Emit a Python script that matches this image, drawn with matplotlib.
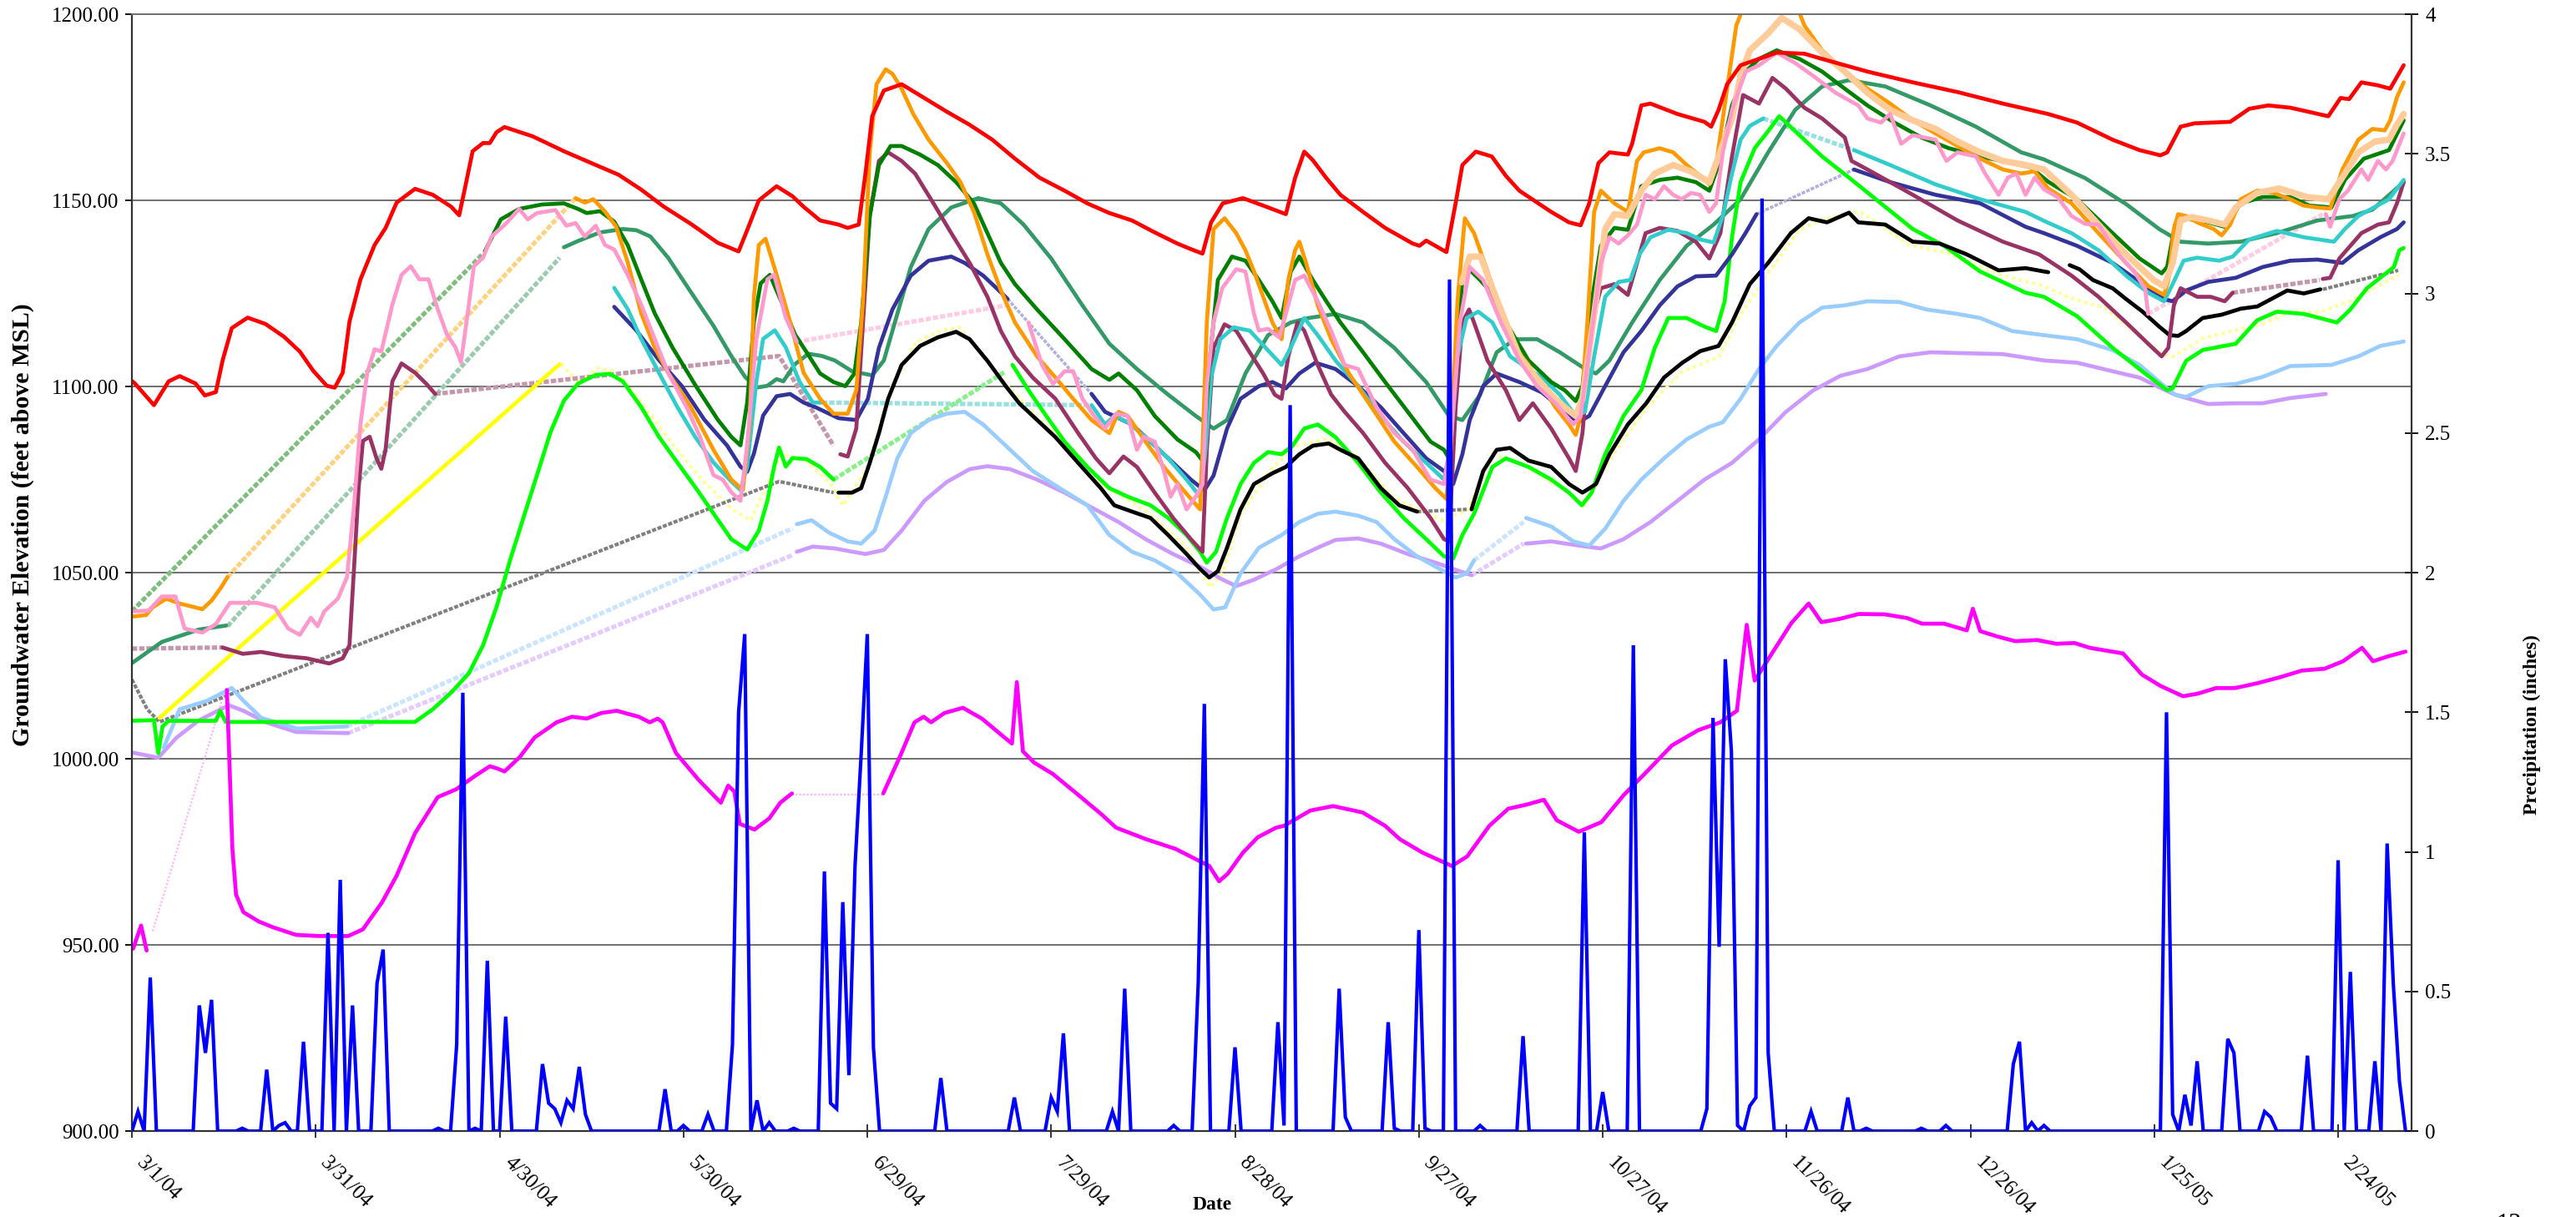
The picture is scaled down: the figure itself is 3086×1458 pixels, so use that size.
import numpy as np
import matplotlib
matplotlib.use("Agg")
import matplotlib.pyplot as plt
from matplotlib.transforms import ScaledTranslation

plt.rcParams["font.family"] = ["Liberation Serif", "DejaVu Serif"]

# x = days since 3/1/04, y = groundwater elevation (ft above MSL); None = gap
TICK_DAYS = [0, 30, 60, 90, 120, 150, 180, 210, 240, 270, 300, 330, 360]
TICK_LABELS = ["3/1/04", "3/31/04", "4/30/04", "5/30/04", "6/29/04", "7/29/04",
               "8/28/04", "9/27/04", "10/27/04", "11/26/04", "12/26/04",
               "1/25/05", "2/24/05"]
ELEV_TICKS = [900, 950, 1000, 1050, 1100, 1150, 1200]
RAIN_TICKS = [0, 0.5, 1, 1.5, 2, 2.5, 3, 3.5, 4]
RAIN_TICK_LABELS = ["0", "0.5", "1", "1.5", "2", "2.5", "3", "3.5", "4"]

red = [(0, 1101.5), (0.5, 1100.8), (3.6, 1095), (6, 1101.4), (7.8, 1102.8), (10.4, 1100.8), (11.9, 1097.6),
       (13.7, 1098.5), (14.8, 1107), (16.3, 1115.7), (18.9, 1118.5), (21.8, 1116.8), (24.8, 1113.4),
       (27.4, 1109.4), (29.6, 1104.2), (31.8, 1100.2), (33.1, 1099.7), (34.4, 1103.7), (35.5, 1117.4),
       (37.3, 1128.8), (39.6, 1138), (41.4, 1142.6), (43.2, 1149.4), (46.2, 1153.1), (49.1, 1151.5),
       (52.1, 1148.3), (53.4, 1146), (54.3, 1152.9), (55.6, 1163.2), (57.3, 1165.4), (58.4, 1165.4),
       (59.5, 1168.3), (60.8, 1169.7), (65.4, 1167.2), (70.5, 1163.2), (75, 1160), (79.4, 1156.9),
       (83.1, 1152.9), (86.8, 1148.3), (91.2, 1143.7), (95.6, 1138.6), (99, 1136.3), (100.4, 1142),
       (102.3, 1150), (105.2, 1153.8), (107.8, 1151.1), (109.6, 1148.3), (112.3, 1144.6), (115.3, 1143.5),
       (116.8, 1142.6), (118.6, 1143.5), (119.7, 1157.2), (120.8, 1172.6), (122.7, 1179.5), (125.6, 1181.2),
       (130, 1176.8), (133, 1173.8), (136.7, 1170.3), (140.4, 1166.3), (144.1, 1161.2), (148.1, 1156.1),
       (152.2, 1152.6), (155.9, 1149.2), (159.5, 1146.6), (163.2, 1144.6), (166.9, 1141.4), (170.6, 1138.4),
       (172.8, 1136.9), (174.7, 1135.7), (176.1, 1144.1), (178, 1149.2), (181.3, 1150.6), (184.6, 1148.6),
       (188.3, 1146.3), (189.8, 1156), (191.3, 1163.1), (192.7, 1160.8), (194.9, 1156), (197.2, 1151.5),
       (200.9, 1146.9), (204.5, 1142.6), (209, 1138.4), (210.1, 1137.8), (211.2, 1139.2), (212.7, 1137.8),
       (214.5, 1136.1), (216, 1149.2), (217.1, 1159.5), (219.3, 1163.1), (221.9, 1161.8), (224.2, 1156.6),
       (226.4, 1152.6), (231.6, 1146.9), (234.5, 1144.1), (236.4, 1143.3), (237.8, 1149.2), (239.3, 1160),
       (241.1, 1162.9), (244.1, 1162.3), (244.8, 1165.2), (246.3, 1175.5), (247.8, 1176), (252.2, 1173.2),
       (256.6, 1171.1), (257.7, 1169.8), (258.9, 1174.3), (260.3, 1181.2), (262.5, 1186.3), (265.5, 1188),
       (268.4, 1189.7), (272.9, 1189.4), (275.8, 1188), (283.2, 1184.6), (290.6, 1181.7), (297.9, 1179.1),
       (305.3, 1176), (312.7, 1173.2), (317.4, 1170.9), (323.2, 1166.3), (327.6, 1163.5), (331, 1162.1),
       (332.1, 1162.9), (334.3, 1169.8), (336.6, 1170.7), (342.4, 1171.1), (345.5, 1174.6), (348.6, 1175.5),
       (352.2, 1174.9), (358.4, 1172.6), (360.4, 1177.5), (361.8, 1177.2), (363.8, 1181.7), (366.5, 1180.9),
       (368.5, 1180), (370.7, 1186.3)]

orange = [(0, 1038.2), (2.3, 1038.6), (3.4, 1040.7), (5.6, 1043), (7.8, 1041.7), (11.5, 1040.2), (13, 1042.5),
          (14.5, 1045.9), (15.6, 1048.8), None,
          (72.4, 1150.6), (73.9, 1149.4), (75.3, 1150.3), (77.2, 1147), (79, 1143), (80.9, 1133.4),
          (83.1, 1119.7), (85.3, 1110.5), (87.5, 1103.7), (91.2, 1094.5), (94.9, 1083), (97.8, 1075),
          (99.7, 1072.2), (100.8, 1090), (101.5, 1124), (102.3, 1138), (103.4, 1139.7), (105.2, 1130),
          (107.4, 1117.4), (109.6, 1103.7), (112.3, 1096.7), (114.5, 1092.7), (116.8, 1092.7), (118.2, 1099),
          (119.3, 1123), (120.4, 1162.9), (121.5, 1181.2), (123, 1185.2), (124.1, 1184), (125.6, 1180),
          (127.5, 1173.2), (130, 1166.3), (133, 1160), (135.2, 1154.9), (137.4, 1146.9), (139.6, 1135.5),
          (141.8, 1125.8), (144.1, 1117.2), (147.7, 1108.1), (150.7, 1102.4), (153.6, 1096.7), (156.6, 1091),
          (159.5, 1087.5), (161, 1093.2), (162.5, 1092.1), (165.4, 1085.2), (168.4, 1078.4), (171.3, 1072.7),
          (174.3, 1067), (174.7, 1083), (175.4, 1117.2), (176.5, 1142.3), (178.3, 1145.2), (180.2, 1141.2),
          (181.7, 1136.6), (183.1, 1130.9), (184.6, 1124.1), (186.1, 1117.2), (187.6, 1112.7), (188.7, 1128.6),
          (189.8, 1136.6), (190.5, 1138.9), (191.6, 1133.2), (193.5, 1121.8), (195.7, 1112.7), (198.6, 1103.5),
          (202.3, 1094.4), (206, 1085.2), (209.7, 1078.4), (212.7, 1072.7), (214.5, 1069.8), (215.2, 1083),
          (216.3, 1122.9), (217.5, 1145.2), (219, 1141.2), (221.2, 1131), (223.4, 1119.5), (225.7, 1110.4),
          (227.9, 1105.8), (230.1, 1100.1), (232.3, 1094.4), (234.5, 1089.8), (235.6, 1087), (236.4, 1092.1),
          (237.5, 1117.2), (238.6, 1146.9), (239.7, 1152.6), (241.9, 1149.2), (244.1, 1146.9), (245.6, 1160.6),
          (246.7, 1162.9), (249.3, 1164), (251.5, 1162.9), (253.7, 1159.5), (255.9, 1156.6), (257.4, 1154.3),
          (258.5, 1159.5), (260.3, 1180), (261.8, 1197), (263.5, 1204), (266, 1208), (269, 1207),
          (271.5, 1203), (272.9, 1197), (275.8, 1190.3), (279.5, 1184.6), (283.2, 1180), (286.9, 1176),
          (290.6, 1171.5), (294.3, 1168), (297.9, 1164.6), (301.6, 1161.2), (305.3, 1158.3), (308.3, 1157.2),
          (310.5, 1157.8), (312.7, 1153.2), (316.5, 1149.2), (320.9, 1141.2), (325.4, 1133.2), (329, 1127),
          (331.6, 1124.6), (332.3, 1128.6), (333.2, 1142.3), (333.9, 1146.3), (335.2, 1145.8), (337, 1144.1),
          (339.7, 1142.3), (341, 1140.6), (342.4, 1143.5), (344.1, 1150.3), (346.8, 1152.6), (349.5, 1152),
          (352.2, 1150.3), (354.4, 1148.6), (356.6, 1148.1), (358.7, 1147.8), (360.7, 1158.3), (363.3, 1166.3),
          (365.6, 1169.2), (367.6, 1168.8), (368.5, 1171.5), (369.6, 1177.7), (370.7, 1181.7)]

peach = [(217, 1128), (218.3, 1134.9), (220.1, 1134.9), (222, 1126.4), (224.2, 1117.2), (226.4, 1108.1),
         (228.6, 1103.5), (231.6, 1097.8), (233.8, 1094.4), (235.6, 1092.1), (236.7, 1096.7), (238.9, 1122.9),
         (240.4, 1142.3), (241.9, 1146.3), (244.1, 1145.8), (246.3, 1152.6), (248.5, 1157.2), (251.5, 1159.5),
         (254.4, 1157.8), (257.4, 1154.9), (258.9, 1161.8), (261.1, 1172), (262.5, 1183.5), (264, 1190.3),
         (267, 1194.9), (269.2, 1199), (272.1, 1196), (275.8, 1189.7), (279.5, 1184.6), (283.2, 1178.9),
         (286.9, 1174.3), (290.6, 1171.5), (294.3, 1169.2), (297.9, 1165.8), (301.6, 1162.9), (305.3, 1160.6),
         (309, 1159.5), (312, 1158.3), (316.5, 1151.5), (320.9, 1143.5), (325.4, 1135.5), (329.9, 1128.6),
         (331.6, 1126.9), (333, 1133.2), (334.3, 1144.6), (336.1, 1145.5), (338.8, 1144.6), (341.5, 1143.5),
         (343.3, 1148.1), (346.8, 1152), (350.4, 1153.2), (354.9, 1150.9), (358.4, 1150.3), (360.2, 1154.9),
         (363.3, 1162.9), (366, 1165.8), (368.3, 1166.3), (369.6, 1170.3), (370.7, 1173.2)]

dark_green = [(57.6, 1136.3), (60.2, 1144.9), (63.2, 1147.7), (66.9, 1148.9), (70.5, 1149.2), (72.8, 1147.7),
              (74.2, 1146.6), (76.4, 1147.1), (78.7, 1144.3), (80.9, 1138), (83.1, 1128.8), (85.3, 1119.7),
              (88.2, 1110.5), (92, 1100.2), (95.6, 1091.1), (97.8, 1086.5), (99.3, 1084.2), (100.4, 1095.7),
              (101.5, 1117.4), (102.6, 1127.7), (104.1, 1130), (105.9, 1123.1), (108.2, 1114), (110.1, 1109.2),
              (112.3, 1103.5), (114.5, 1101.2), (116.4, 1100.1), (117.9, 1103.5), (119, 1117.2), (120.4, 1145.8),
              (121.9, 1159.5), (123.8, 1164.6), (125.6, 1164.6), (128.6, 1162.3), (131.5, 1159.5), (134.5, 1154.9),
              (137.4, 1149.2), (139.6, 1141.2), (141.8, 1133.2), (144.1, 1127.5), (147.7, 1120.7), (152.2, 1112.7),
              (156.6, 1104.7), (159.5, 1101.8), (161, 1103.5), (164, 1099), (166.9, 1092.1), (170.6, 1085.8),
              (173.6, 1082.4), (174.7, 1080.1), (175.8, 1105.8), (177.2, 1128.6), (179.5, 1134.9), (181.7, 1133.8),
              (183.9, 1128.6), (186.1, 1122.9), (187.6, 1118.4), (189.1, 1130.9), (190.5, 1134.9), (192.7, 1128.6),
              (194.9, 1122.9), (197.2, 1117.2), (200.9, 1109.2), (204.5, 1101.2), (208.2, 1093.2), (211.9, 1085.2),
              (214.1, 1083), (214.9, 1080.7), (216, 1105.8), (217.1, 1128.6), (218.2, 1131.5), (220, 1128.6),
              (221.2, 1126.4), (224.2, 1117.2), (227.9, 1107), (231.6, 1101.2), (233.8, 1099), (235.6, 1096.1),
              (236.7, 1100.1), (238.2, 1122.9), (239.7, 1137.8), (241.9, 1142.6), (244.1, 1142.1), (246.3, 1153.8),
              (249.3, 1155.5), (252.2, 1156.1), (255.2, 1154.9), (257.4, 1152.6), (258.9, 1159.5), (261.1, 1175.5),
              (263.3, 1184.6), (265.5, 1188), (268.4, 1190.3), (272.1, 1188), (275.8, 1184.6), (279.5, 1180),
              (283.2, 1175.5), (287.6, 1170.9), (292, 1166.9), (296.5, 1164), (301.6, 1161.8), (306.8, 1160),
              (309.8, 1158.9), (312.7, 1155), (317.4, 1150.3), (323.2, 1141.2), (327.6, 1134.4), (331.2, 1130.4),
              (332.1, 1132.1), (333.4, 1143.5), (334.8, 1145.2), (338.8, 1144.1), (341.5, 1142.9), (344.1, 1149.2),
              (347.7, 1150.9), (352.2, 1150.9), (355.3, 1148.6), (358.9, 1148.1), (361.1, 1155.5), (364.2, 1161.2),
              (368.3, 1163.5), (370.7, 1171.5)]

sea_green = [(0, 1025.7), (4.9, 1031.4), (10.9, 1034.7), (15.4, 1035.8), None,
             (70.5, 1137.4), (72.8, 1139.1), (76.4, 1141.4), (80.1, 1142.3), (82.3, 1142), (84.6, 1140.3),
             (87.5, 1134.6), (91.2, 1125.4), (94.9, 1116.3), (97.8, 1108.2), (100.1, 1102.5), (101.9, 1099.7),
             (103.7, 1100.2), (105.2, 1102), (106.3, 1101.4), (108.2, 1106), (110.4, 1108.8), (112.6, 1108.2),
             (114.7, 1107), (117.5, 1104.1), (120.8, 1103), (122.7, 1107), (124.9, 1119.5), (127.1, 1132.1),
             (130, 1142.3), (133.7, 1148.1), (138.1, 1150.6), (141.8, 1149.2), (145.5, 1143.5), (150, 1134.4),
             (155.1, 1121.8), (159.5, 1111.5), (164, 1104.7), (169.1, 1097.8), (173.6, 1092.1), (176.5, 1088.7),
             (178.7, 1091), (181.7, 1103.5), (185.4, 1113.8), (189.1, 1117.2), (192, 1118.4), (196.4, 1119.5),
             (200.9, 1117.2), (206, 1110.4), (211.2, 1101.2), (214.9, 1092.1), (217.1, 1091), (220, 1097.8),
             (222.7, 1109.2), (225.7, 1112.7), (229.3, 1112.7), (233, 1109.2), (236.7, 1105.2), (238.9, 1103.5),
             (241.1, 1107), (244.8, 1117.2), (249.3, 1128.6), (253.7, 1137.8), (258.1, 1143.5), (262.5, 1150.3),
             (267, 1162.9), (271.4, 1174.3), (275.8, 1180.6), (280.2, 1182.3), (286.1, 1180.6), (293.5, 1175.5),
             (300.9, 1169.8), (308.3, 1162.9), (312, 1161), (318.7, 1156), (325.4, 1149), (330.8, 1142.3),
             (334.3, 1138.9), (338.8, 1138.4), (344.1, 1138.9), (350, 1141.2), (356.6, 1144.6), (362.4, 1145.8),
             (365.6, 1147.5), (370.7, 1154.9)]

pink = [(0, 1039.6), (2.7, 1039.8), (4.9, 1043.6), (7.1, 1043.6), (7.8, 1039.6), (8.6, 1035), (11.5, 1033.9),
        (13.7, 1036.2), (16, 1041.9), (20.4, 1041.9), (23.3, 1040.7), (25.5, 1035), (27.4, 1033.3), (29.2, 1037.9),
        (30.3, 1035.6), (31.4, 1039.6), (33.6, 1043), (35.1, 1048.8), (36.2, 1067.1), (37.3, 1089.9),
        (38.4, 1103.7), (39.6, 1110), (40.7, 1109.4), (42.5, 1122), (44, 1130), (45.5, 1132.3), (46.9, 1128.8),
        (48.4, 1128.8), (49.9, 1120.8), (51.4, 1114), (52.8, 1110.5), (53.7, 1106.5), (54.7, 1118.5),
        (55.8, 1132.3), (57.3, 1134.6), (58.7, 1140.3), (61, 1143.7), (63.2, 1147.7), (64.6, 1144.9),
        (66.1, 1146.6), (69.1, 1147.4), (70.9, 1143.2), (72.4, 1143.9), (73.9, 1140.3), (75.7, 1143.2),
        (77.2, 1138), (78.7, 1136.8), (80.9, 1130), (83.1, 1122), (85.3, 1112.8), (87.5, 1103.7), (90.5, 1094.5),
        (92.7, 1086.5), (94.9, 1076.2), (96.4, 1075), (97.8, 1071.6), (99.3, 1069.3), (100.4, 1084.2),
        (101.9, 1112.8), (103.7, 1128.8), (104.8, 1130), (106.7, 1118.5), (108.5, 1112), None,
        (146.3, 1117.2), (148.5, 1105.8), (150.3, 1100.7), (152.2, 1104.1), (153.6, 1104.1), (155.1, 1096.7),
        (157, 1092.1), (158.8, 1088.7), (160.6, 1092.7), (162.5, 1092.1), (164, 1083), (165.1, 1086.5),
        (166.9, 1085.2), (168.4, 1077.3), (169.5, 1070.4), (170.6, 1073.8), (172.1, 1067), (173.6, 1070.4),
        (174.7, 1073.8), (175.4, 1100.1), (176.5, 1117.2), (177.9, 1126.4), (180.2, 1131.5), (181.7, 1130.9),
        (183.1, 1119.5), (183.9, 1115), (185.4, 1115.5), (187.2, 1113.2), (188.3, 1119.5), (189.8, 1128.6),
        (191.3, 1129.8), (193.5, 1122.9), (195.7, 1114.9), (197.9, 1105.8), (200.1, 1104.7), (203.1, 1094.4),
        (206, 1087.5), (209, 1083), (211.9, 1075), (214.1, 1073.8), (215.2, 1085.2), (216.7, 1117.2),
        (218.3, 1132.1), (220.5, 1128.6), (223.4, 1117.2), (226.4, 1107), (229.3, 1100.1), (232.3, 1095.5),
        (235.2, 1089.8), (236.4, 1092.1), (237.5, 1105.8), (239.7, 1133.2), (241.1, 1140.1), (242.6, 1138.4),
        (244.1, 1140.6), (245.6, 1143.5), (247, 1151.5), (248.5, 1150.3), (250, 1153.8), (251.5, 1151.5),
        (252.9, 1150.3), (254.4, 1152), (255.9, 1151.5), (257.4, 1146.9), (258.5, 1149.2), (259.6, 1162.9),
        (261.1, 1174.3), (263.3, 1184.6), (265.5, 1186.3), (268.4, 1189.7), (271.4, 1186.9), (274.3, 1183.5),
        (278, 1178.9), (281.7, 1175.5), (283.2, 1172), (285.4, 1170.9), (286.9, 1173.2), (288.7, 1165.2),
        (290.6, 1167.5), (294.3, 1166.3), (296.1, 1160.6), (297.9, 1162.9), (300.9, 1161.8), (302.4, 1157.2),
        (304.6, 1151.5), (306.1, 1156.1), (307.5, 1157.2), (309, 1151.5), (310.5, 1156.1), (312, 1153),
        (314.2, 1150.9), (316.5, 1145.8), (318.7, 1143.7), (320.9, 1143.5), (322.7, 1138.9), (324.5, 1134.9),
        (326.7, 1130.9), (328.5, 1126.4), (329, 1119.5), None,
        (358, 1146.3), (358.7, 1142.9), (360.2, 1150.3), (361.6, 1152.6), (363.8, 1158.3), (364.9, 1155.5),
        (366.5, 1160.6), (367.8, 1158.3), (368.9, 1160.6), (370.7, 1168)]

turquoise = [(78.7, 1126.5), (80.9, 1120.8), (83.1, 1112.8), (86, 1103.7), (89, 1094.5), (91.9, 1086.5),
             (94.9, 1079.6), (97.8, 1074.5), (99.3, 1072.2), (100.4, 1078.5), (101.9, 1101.4), (103, 1112.8),
             (104.9, 1115.1), (106.7, 1110.5), (108.9, 1101.4), (111.1, 1095.7), (112.6, 1095.7), None,
             (156.6, 1095), (158.8, 1089.8), (160.3, 1092.1), (162.5, 1090.4), (165.4, 1086.4), (169.1, 1080.7),
             (172.1, 1075), (174.3, 1070.4), (175.2, 1083), (176.1, 1102.4), (177.6, 1112.7), (179.8, 1115.9),
             (182.4, 1115), (185, 1110.4), (187.6, 1105.8), (189.1, 1110.4), (191.3, 1118.4), (193.5, 1113.8),
             (196.4, 1107), (200.1, 1100.1), (203.8, 1092.1), (207.5, 1085.2), (211.2, 1079.5), (214.1, 1075),
             (215.2, 1084.1), (216.3, 1108.1), (217.8, 1118.4), (219.7, 1120.1), (222, 1117.2), (224.9, 1108.1),
             (227.9, 1104.7), (230.1, 1102.4), (233, 1097.8), (235.6, 1092.1), (237.1, 1093.2), (238.6, 1108.1),
             (240.4, 1124.1), (242.6, 1128.1), (244.5, 1128.6), (246, 1135.5), (247.8, 1140.1), (250.7, 1142.1),
             (253.7, 1141.2), (255.9, 1139.5), (258.1, 1138.7), (259.6, 1145.8), (261.1, 1157.2), (262.5, 1166.3),
             (264, 1170), (266.2, 1172), None,
             (281, 1163.5), (286.9, 1159.5), (294.3, 1154.3), (301.6, 1150.3), (309, 1146.9), (312, 1144.5),
             (316.5, 1141.2), (320.9, 1136.6), (325.4, 1129.8), (329, 1125.2), (331.6, 1122.9), (333, 1127.5),
             (334.8, 1133.8), (337, 1134.6), (340.6, 1133.8), (342.8, 1134.9), (345.5, 1139.5), (350, 1141.8),
             (354.4, 1140.1), (359.3, 1138.9), (361.1, 1142.3), (363.3, 1145.8), (368.3, 1150.3), (370.7, 1155.5)]

maroon = [(14.8, 1029.9), (18.1, 1028.2), (21.1, 1028.7), (24.8, 1027.6), (28.5, 1027), (32.2, 1025.6),
          (34.4, 1027), (35.5, 1030.5), (36.2, 1049.9), (37, 1072.8), (37.7, 1085.4), (38.8, 1086.5),
          (39.9, 1080.8), (40.7, 1077.9), (41.4, 1083.1), (42.5, 1101.4), (44, 1106.2), (46.2, 1103.7),
          (48, 1100.8), (49.5, 1098), None,
          (115.6, 1081.8), (116.8, 1081.2), (118.2, 1088.7), (119.3, 1117.2), (120.4, 1145.8), (121.9, 1160.6),
          (123.4, 1162.9), (125.6, 1160.6), (127.8, 1157.2), (130.8, 1149.2), (133.7, 1141.2), (136.7, 1133.2),
          (139.6, 1124.1), (141.8, 1114.9), (144.1, 1108.1), (147, 1102.4), (150.7, 1096.7), (154.4, 1087.5),
          (157.3, 1080.7), (159.5, 1076.7), (161.8, 1081.2), (164, 1078.4), (166.9, 1071.5), (169.9, 1064.7),
          (172.8, 1059), (174.7, 1055.6), (175.4, 1083), (176.5, 1110.4), (178.3, 1116.7), (180.2, 1115),
          (182.4, 1109.2), (184.6, 1103.5), (186.5, 1097.8), (187.6, 1096.7), (188.7, 1108.1), (190.2, 1117.2),
          (191.3, 1115), (193.5, 1105.8), (195.7, 1097.8), (197.9, 1093.2), (200.9, 1087.5), (204.5, 1079.5),
          (208.2, 1072.7), (211.9, 1064.7), (214.1, 1059), (214.9, 1058.4), (216, 1094.4), (217.1, 1117.2),
          (218.2, 1120.7), (219, 1117.2), (221.2, 1107), (224.2, 1099), (226.4, 1091), (228.6, 1095.5),
          (231.6, 1088.7), (234.5, 1080.7), (235.6, 1077.3), (236.7, 1087.5), (238.2, 1117.2), (239.7, 1126.4),
          (241.9, 1127.5), (244.1, 1124.6), (245.6, 1133.2), (247, 1141.2), (249.3, 1142.6), (252.2, 1141.8),
          (255.2, 1138.9), (257.4, 1134.4), (259.2, 1141.2), (261.1, 1161.8), (262.9, 1178.3), (265.5, 1176),
          (267.7, 1182.9), (269.9, 1180), (272.9, 1174.9), (275.8, 1172), (279.5, 1166.9), (280.6, 1160.6),
          (283.2, 1158.3), (290.6, 1151.5), (297.9, 1144.6), (305.3, 1138.9), (311.2, 1135.5), (316.5, 1129.8),
          (320.9, 1124.1), (325.4, 1117.2), (329, 1111.5), (331.2, 1108.1), (332.3, 1110.4), (333.2, 1121.8),
          (334.3, 1126.4), (337, 1124.1), (339.2, 1124.1), (341.5, 1122.9), (342.8, 1125.2), None,
          (357.5, 1128.9), (358.7, 1129.2), (360.2, 1134.4), (363.8, 1141.2), (366.5, 1143.5), (368.3, 1144.1),
          (369.6, 1149.2), (370.7, 1154.9)]

navy = [(78.7, 1121.4), (82.3, 1115.1), (86, 1107.1), (89.7, 1100.2), (93.4, 1091.1), (97.1, 1084.2),
        (99.3, 1078.5), (100.4, 1077.1), (101.5, 1082), (103, 1092.2), (105.2, 1097.4), (107.4, 1098),
        (109.6, 1095.7), (111.6, 1094.4), (115.3, 1091.5), (118.2, 1091), (120.1, 1096.7), (121.9, 1110.4),
        (124.1, 1120.7), (127.1, 1129.8), (130, 1133.8), (133.7, 1134.9), (135.9, 1133.2), (138.9, 1129.8),
        (141.1, 1126.4), (142.9, 1123.5), None,
        (156.6, 1098), (158.8, 1093.2), (161, 1091.5), (163.2, 1089.8), (166.2, 1085.2), (169.9, 1079.5),
        (172.8, 1075), (175, 1072.1), (176.5, 1076.1), (178.7, 1088.7), (180.9, 1096.7), (183.9, 1100.1),
        (186.1, 1101.2), (188.3, 1099.5), (190.5, 1103.5), (193.1, 1106.4), (196.4, 1104.7), (200.1, 1100.1),
        (203.8, 1094.4), (207.5, 1087.5), (211.2, 1080.7), (214.1, 1077.3), (215.6, 1073.8), (217.1, 1081.8),
        (218.3, 1091), (220.5, 1100.1), (222.7, 1103.5), (226.4, 1101.2), (230.1, 1098.4), (233, 1094.4),
        (236, 1090.4), (237.8, 1092.1), (240.4, 1100.1), (243.4, 1109.2), (246.3, 1114.9), (249.3, 1121.8),
        (252.2, 1126.9), (255.2, 1129.6), (258.5, 1129.8), (261.1, 1135.5), (263.3, 1141.2), (265.1, 1146.3), None,
        (281, 1158.3), (286.9, 1154.9), (294.3, 1151.5), (301.6, 1149.2), (309, 1142.9), (312, 1141.2),
        (317.4, 1137.8), (323.2, 1133.2), (327.6, 1128.1), (331.6, 1123.5), (333, 1122.9), (335.2, 1125.8),
        (338.8, 1128.1), (343.3, 1129.2), (347.7, 1132.1), (352.2, 1133.8), (356.6, 1134.1), (360.7, 1133.2),
        (363.3, 1136.6), (366.9, 1140.1), (369.6, 1142.3), (370.7, 1144.1)]

black = [(115.3, 1071.5), (117.5, 1071.5), (119, 1072.7), (120.4, 1079.5), (121.9, 1087.5), (123.4, 1096.7),
         (125.6, 1105.8), (128.6, 1110.9), (131.5, 1113.2), (134.5, 1114.7), (136.7, 1112.7), (139.6, 1106.9),
         (142.6, 1100.1), (144.8, 1095.5), (147, 1092.1), (150.7, 1086.4), (154.4, 1079.5), (158.1, 1072.7),
         (160.3, 1068.1), (163.2, 1066.4), (166.2, 1064.7), (169.1, 1060.1), (172.1, 1055), (174.3, 1051),
         (175.8, 1048.7), (177.2, 1050.4), (178.7, 1056.7), (180.9, 1067), (183.1, 1073.8), (186.1, 1076.7),
         (188.3, 1078.4), (190.5, 1081.8), (192.7, 1084.1), (195.3, 1084.7), (197.2, 1083), (200.1, 1080.7),
         (203.8, 1072.7), (206.8, 1068.1), (209.7, 1066.4), None,
         (218.6, 1067), (220.5, 1077.3), (222.7, 1083), (224.9, 1083.5), (227.9, 1080.1), (231.6, 1078.4),
         (234.5, 1073.8), (236.7, 1071.5), (238.9, 1073.8), (241.1, 1081.8), (244.1, 1089.8), (247.1, 1095.5),
         (250, 1102.4), (253, 1106.4), (255.9, 1109.5), (258.9, 1110.9), (261.1, 1117.2), (264, 1127.5),
         (267, 1133.2), (270.7, 1141.2), (273.6, 1145.2), (276.6, 1144.1), (280.2, 1146.7), (281.7, 1144.1),
         (286.1, 1143.5), (290.6, 1138.9), (295, 1138.4), (299.4, 1135.5), (304.6, 1131.2), (309, 1131.8),
         (312.7, 1130.7), None,
         (316.2, 1132.6), (317.8, 1131.5), (320, 1128.6), (323.2, 1126.4), (325.4, 1123.5), (328.1, 1120.1),
         (330.8, 1116.1), (332.5, 1113.8), (333.9, 1113.6), (335.2, 1114.9), (337.9, 1118.4), (341, 1119.3),
         (344.1, 1120.9), (346.8, 1121.5), (349.1, 1123.5), (351.7, 1125.8), (354.4, 1125), (357.1, 1126.1)]

green = [(0, 1010.2), (3.6, 1010.4), (4.3, 1001.5), (5, 1008.7), (6, 1010.2), (13.7, 1010.2), (14.4, 1012.9),
         (15.3, 1009.9), (46.2, 1009.9), (49.1, 1013.3), (52.1, 1017.8), (55, 1023), (57.3, 1030.5),
         (59.5, 1040.8), (61.7, 1053.3), (63.9, 1064.8), (66.1, 1076.2), (68.3, 1087.7), (70.5, 1096.2),
         (72.8, 1100.8), (75.7, 1103.1), (78, 1103.4), (80.1, 1101.4), (83.1, 1094.5), (86, 1086.5), (89, 1079.6),
         (92, 1072.8), (94.9, 1065.9), (97.8, 1059), (100.4, 1056.2), (102.3, 1061.3), (103.7, 1069.3),
         (104.8, 1078.5), (105.6, 1083.6), (106.7, 1078.5), (107.8, 1080.8), (110.1, 1080.5), (112.3, 1078.4),
         (114.5, 1075), None,
         (143.7, 1105.8), (146.3, 1099), (149.2, 1092.1), (152.2, 1085.2), (155.9, 1078.4), (159.5, 1072.7),
         (162.5, 1070.4), (166.2, 1068.1), (169.1, 1064.7), (172.1, 1060.1), (174.3, 1055.6), (175.4, 1052.7),
         (176.9, 1055.6), (178.7, 1064.7), (180.9, 1073.8), (183.1, 1079.5), (185.4, 1082.4), (187.6, 1081.8),
         (189.4, 1084.1), (191.3, 1088.7), (193.5, 1089.8), (196.4, 1086.4), (200.1, 1079.5), (203.8, 1071.5),
         (207.5, 1064.7), (211.2, 1059), (214.1, 1054.4), (215.6, 1053.8), (217.1, 1060.1), (219, 1065.8),
         (222, 1078.4), (224.2, 1080.7), (227.9, 1078.4), (231.6, 1075), (234.5, 1071.5), (236.6, 1068.1),
         (238.2, 1071.5), (240.4, 1081.8), (243.4, 1092.1), (246.3, 1099), (248.5, 1110.4), (250.7, 1118.4),
         (253.7, 1118.4), (256.6, 1116.1), (258.5, 1114.9), (259.9, 1122.9), (261.1, 1140.1), (262.5, 1154.9),
         (264.8, 1164), (267, 1168.6), (268.8, 1172.6), (271.4, 1168.6), (275.8, 1161.8), (280.2, 1156.1),
         (285.4, 1149.2), (290.6, 1142.3), (295.7, 1137.8), (301.6, 1130.9), (309, 1125.2), (312, 1124.1),
         (317.4, 1118.9), (323.2, 1110.4), (328.5, 1103.5), (332.1, 1099), (333, 1099.5), (335.2, 1106.9),
         (337.9, 1109.8), (343.3, 1111.5), (346.8, 1117.8), (350, 1120.1), (354.4, 1119.5), (359.8, 1117.2),
         (362, 1120.7), (364.7, 1126.4), (367.8, 1130.4), (369.1, 1132.1), (370, 1136.6), (370.7, 1137.2)]

light_blue = [(5.2, 1003), (7.8, 1013.3), (12.3, 1015.6), (16.3, 1019), (18.2, 1015.6), (21.1, 1011),
              (27, 1008.1), (35.1, 1008.7), None,
              (108.5, 1063), (110.9, 1064.1), (113.8, 1060.7), (116.8, 1058.4), (119, 1057.8), (121.2, 1061.3),
              (123, 1070.4), (124.9, 1080.7), (127.1, 1087.5), (130, 1091), (133, 1092.7), (135.9, 1093.2),
              (138.9, 1089.8), (142.6, 1084.1), (147, 1077.3), (151.4, 1072.7), (155.9, 1068.1), (159.5, 1060.1),
              (163.2, 1055.6), (166.9, 1053.3), (170.6, 1049.8), (174.3, 1044.1), (176.5, 1040.1), (178.4, 1040.7),
              (180.9, 1049.8), (183.9, 1056.7), (187.6, 1060.1), (190.5, 1063.6), (193.5, 1065.8), (196.4, 1066.4),
              (200.1, 1065.3), (203.1, 1063.6), (206, 1059), (209.7, 1054.4), (213.4, 1051), (216, 1048.7),
              (217.8, 1049.8), (219, 1053.3), None,
              (227.5, 1064.7), (231.6, 1062.4), (235.2, 1058.4), (237.8, 1057.3), (240.4, 1061.8), (243.4, 1069.3),
              (246.3, 1075), (250, 1080.7), (253.7, 1085.8), (257.4, 1089.2), (259.6, 1090.4), (262.5, 1096.7),
              (265.5, 1104.7), (268.4, 1110.9), (272.1, 1117.2), (275.8, 1121.2), (279.5, 1121.8), (283.2, 1122.9),
              (288.4, 1122.7), (292.8, 1120.7), (297.9, 1119.5), (301.6, 1118.4), (306.8, 1114.9), (312, 1113.8),
              (317.4, 1112.7), (323.2, 1109.8), (327.6, 1105.8), (331.2, 1100.7), (333.4, 1097.8), (335.2, 1097.2),
              (338.8, 1100.1), (343.3, 1100.7), (347.7, 1102.6), (352.2, 1105.5), (358.9, 1105.8), (363.3, 1108.1),
              (366.9, 1110.9), (370.7, 1112.1)]

lavender = [(0, 1001.7), (4.3, 1000.3), (7.3, 1005.7), (10.9, 1010.3), (15.8, 1014.4), (18.2, 1012.9),
            (21.9, 1009.8), (26.8, 1007.2), (35.3, 1006.9), None,
            (108.5, 1055.6), (111.1, 1057), (114.7, 1056.5), (116, 1056.1), (119.7, 1055), (122.7, 1056.1),
            (125.6, 1061.3), (129.3, 1069.3), (133, 1074.4), (136.7, 1077.8), (139.6, 1078.6), (143.3, 1077.8),
            (147.7, 1075), (152.2, 1071.5), (156.6, 1067.5), (161, 1063.6), (165.4, 1059), (169.9, 1055),
            (174.3, 1051.6), (178, 1048.1), (180.2, 1046.4), (183.1, 1048.1), (186.8, 1051), (190.5, 1054.4),
            (193.5, 1056.7), (196.4, 1058.8), (200.1, 1059.2), (203.8, 1057.8), (208.2, 1055), (212.7, 1052.7),
            (215.6, 1051), (218.6, 1049.3), None,
            (227.5, 1057.8), (231.6, 1058.4), (236, 1057.3), (239.7, 1056.5), (243.4, 1059), (247.8, 1063.6),
            (252.2, 1069.3), (256.6, 1075), (261.1, 1079.5), (265.5, 1085.8), (269.9, 1093.2), (274.3, 1098.9),
            (278.8, 1102.9), (283.2, 1104.7), (288.4, 1108.1), (293.5, 1109.2), (297.9, 1109), (305.3, 1108.7),
            (312, 1107), (317.4, 1106.4), (323.2, 1104.1), (327.6, 1102.4), (331.2, 1099.5), (333.4, 1097.8),
            (335.7, 1096.7), (338.8, 1095.3), (343.3, 1095.5), (347.7, 1095.5), (352.2, 1096.9), (358, 1098)]

magenta = [(0.2, 949), (1.5, 955.2), (2.4, 948.5), None,
           (15.5, 1018.5), (15.8, 1004.6), (16.4, 975.8), (17, 963.5), (18.2, 958.8), (20.7, 956.3), (23.1, 954.7),
           (26.8, 952.7), (30.4, 952.4), (35.3, 952.4), (37.7, 954.2), (40.8, 961.4), (43.2, 968.6), (46.2, 980),
           (49.9, 989.7), (52.9, 991.8), (56, 995.4), (58.4, 998), (59.6, 997.4), (60.8, 996.6), (63.3, 1000.5),
           (65.7, 1005.7), (69.3, 1009.8), (71.8, 1011.3), (74.2, 1010.8), (76.6, 1012.3), (79.1, 1012.9),
           (82.7, 1011.3), (84.5, 1009.8), (85.8, 1010.8), (86.6, 1009.8), (88.8, 1001.5), (92.5, 994.3),
           (96.1, 988.2), (97.3, 992.8), (98.3, 991.2), (99.2, 982.5), (101.6, 981), (104, 984), (105.8, 988.2),
           (107.7, 990.7), None,
           (122.6, 990.7), (125.3, 1000.5), (127.7, 1009.8), (129.2, 1011.3), (130.4, 1009.8), (132.6, 1012.3),
           (135.6, 1013.7), (138.7, 1010.8), (142.4, 1005.7), (143.6, 1004.1), (144.4, 1020.6), (145.4, 1002),
           (147.2, 999), (150.3, 995.9), (154.5, 990.2), (158.2, 985.1), (160.6, 981.5), (165.5, 978.4),
           (170.3, 975.8), (174, 972.7), (175.8, 971.2), (177.4, 967.1), (178.8, 969.1), (181.3, 974.8),
           (183.7, 978.9), (186.7, 981.5), (188, 982), (192.3, 986.1), (196, 987.3), (200.8, 985.6), (204.5, 982),
           (206.9, 978.4), (210.6, 974.8), (215.4, 971.2), (217.9, 973.8), (221.5, 982), (224.6, 986.6),
           (227.6, 987.7), (230.4, 989), (232.5, 983.5), (236.1, 980.4), (239.8, 983), (243.4, 990.2),
           (247.1, 996.4), (251.3, 1003.6), (255.6, 1007.7), (259.2, 1009.8), (261.9, 1012.9), (263.5, 1036),
           (264.8, 1021), (267.8, 1028.8), (270.8, 1036.5), (273.6, 1041.7), (275.7, 1036.7), (278.7, 1037.6),
           (281.8, 1038.9), (286, 1038.8), (289.7, 1037.8), (292.1, 1036.3), (295.7, 1036.3), (299.4, 1034.5),
           (300.4, 1040.3), (301.6, 1034.3), (304.3, 1032.9), (307.3, 1031.6), (310.9, 1031.9), (314, 1030.9),
           (317, 1031.1), (319.5, 1029.8), (324.9, 1028.3), (328, 1022.6), (331, 1019.6), (334.7, 1016.8),
           (337.1, 1017.5), (340.1, 1019), (343.2, 1019), (346.8, 1020.3), (350.5, 1021.9), (354.1, 1023.7),
           (357.8, 1024.2), (360.8, 1026.2), (363.9, 1029.8), (365.7, 1026.2), (368.1, 1027.5), (371, 1028.8)]

gray = [(0, 1021.3), (2.5, 1013.3), (4.5, 1009.9), (105.6, 1074.5), (114.5, 1071.5), None,
        (209.7, 1066.4), (217.8, 1067), None, (357.5, 1126.1), (369.8, 1131.2)]
yellow = [(4.5, 1011), (69.8, 1106)]
pale_yellow = [(70, 1106), (73, 1101), (76, 1105), (79, 1104), (83, 1096), (88, 1085), (93, 1075), (98, 1067),
               (101, 1064), (104, 1075), (106, 1082), (110, 1080), (114, 1074), (116, 1068), (120, 1078),
               (124, 1100), (128, 1112), (132, 1115), (135, 1116), (139, 1108), (143, 1100), (150, 1088),
               (158, 1074), (166, 1066), (172, 1057), (176, 1046), (178, 1050), (181, 1066), (186, 1078),
               (190, 1084), (195, 1086), (200, 1081), (206, 1070), (214, 1064), (218, 1067), (222, 1082),
               (227, 1079), (234, 1072), (237, 1068), (241, 1080), (247, 1094), (253, 1104), (259, 1108),
               (262, 1118), (266, 1128), (272, 1142), (276, 1145), (282, 1147), (290, 1138), (296, 1136),
               (305, 1130), (312, 1127), (316, 1124), (322, 1121), (328, 1113), (331, 1109), (333, 1108),
               (338, 1113), (343, 1115), (348, 1117), (352, 1120), (357, 1120), (362, 1123), (370, 1130)]

# estimated (gap-filling) readings drawn with a patterned pen
est_orange = [(15.6, 1048.8), (72.4, 1150.6)]
est_dark_green = [(0, 1039.6), (57.3, 1135.7)]
est_sea_green = [(15.6, 1035.6), (69.8, 1134.6)]
est_pink = [(108.5, 1112), (142.6, 1121.8), None, (329, 1119.5), (357.5, 1146.3)]
est_turquoise = [(112.6, 1095.7), (156.6, 1095), None, (266.2, 1172), (281, 1163.5)]
est_navy = [(142.9, 1123.5), (156.6, 1098), None, (265.1, 1146.3), (281, 1158.3)]
est_green = [(114.5, 1075), (142.6, 1104.1)]
est_light_blue = [(35.1, 1008.7), (107.8, 1061.9), None, (219, 1053.3), (227.1, 1063.6)]
est_lavender = [(35.3, 1006.9), (107.8, 1054.7), None, (218.6, 1049.3), (227.1, 1057.8)]
est_mauve = [(0, 1029.6), (14.8, 1029.9), None, (49.5, 1098), (105.6, 1108.2), (114.5, 1084.1), None,
             (342.8, 1125.2), (357, 1128.6)]
est_magenta = [(3.4, 953.7), (15.2, 1018.5), None, (107.7, 990.4), (122.6, 990.4)]

# daily precipitation (inches); days not listed had none
rain_day = [1, 3, 11, 12, 13, 18, 22, 24, 25, 28, 32, 34, 36, 40, 41, 50, 53, 54, 56, 58, 61, 67, 68, 69, 70,
            71, 72, 73, 74, 87, 90, 94, 98, 99, 100, 102, 104, 108, 113, 114, 115, 116, 117, 118, 119, 120, 121,
            132, 144, 150, 151, 152, 160, 162, 170, 174, 175, 180, 187, 188, 189, 197, 198, 205, 206, 210, 211,
            215, 220, 227, 237, 240, 245, 257, 258, 259, 260, 261, 262, 264, 265, 266, 267, 274, 280, 283, 292,
            296, 307, 308, 310, 312, 332, 333, 335, 336, 337, 342, 343, 348, 349, 355, 360, 362, 366, 368, 369,
            370]
rain_in = [0.07, 0.55, 0.45, 0.28, 0.47, 0.01, 0.22, 0.02, 0.03, 0.32, 0.71, 0.90, 0.45, 0.53, 0.65, 0.01, 0.31,
           1.57, 0.01, 0.61, 0.41, 0.24, 0.10, 0.08, 0.03, 0.11, 0.08, 0.23, 0.06, 0.15, 0.02, 0.06, 0.31, 1.50,
           1.78, 0.11, 0.03, 0.01, 0.93, 0.10, 0.08, 0.82, 0.20, 0.95, 1.35, 1.78, 0.30, 0.19, 0.12, 0.12, 0.07,
           0.35, 0.07, 0.51, 0.02, 0.53, 1.53, 0.30, 0.39, 0.02, 2.60, 0.51, 0.05, 0.39, 0.01, 0.72, 0.01, 3.05,
           0.02, 0.34, 1.07, 0.14, 1.74, 0.08, 1.48, 0.66, 1.69, 1.36, 0.02, 0.09, 0.12, 3.34, 0.28, 0.07, 0.12,
           0.01, 0.01, 0.02, 0.24, 0.32, 0.03, 0.02, 1.50, 0.06, 0.13, 0.02, 0.25, 0.33, 0.28, 0.07, 0.05, 0.27,
           0.97, 0.57, 0.25, 1.03, 0.53, 0.18]
N_DAYS = 372


def xy(points):
    days, vals = [], []
    for p in points:
        if p is None:
            days.append(np.nan)
            vals.append(np.nan)
        else:
            days.append(p[0])
            vals.append(p[1])
    return days, vals


def draw(axis, points, color, lw=3.4, ls="-", z=2):
    d, v = xy(points)
    axis.plot(d, v, color=color, lw=lw, ls=ls, zorder=z,
              solid_joinstyle="round", solid_capstyle="round", dash_capstyle="butt")


fig = plt.figure(figsize=(30.86, 14.58), dpi=100)
ax = fig.add_axes([0.0512, 0.0706, 0.8850, 0.9177])

PATTERN = (0, (1.2, 0.45))
draw(ax, pale_yellow, "#FFFF99", lw=3.0, ls=(0, (1, 1)), z=1.5)
draw(ax, est_orange, "#FFD27F", lw=3.8, ls=PATTERN)
draw(ax, est_dark_green, "#7DBE7D", lw=3.8, ls=PATTERN)
draw(ax, est_sea_green, "#9CCCB0", lw=3.8, ls=PATTERN)
draw(ax, est_pink, "#FFCCE5", lw=3.8, ls=PATTERN)
draw(ax, est_turquoise, "#99E0E0", lw=3.8, ls=PATTERN)
draw(ax, est_navy, "#B0B0DD", lw=2.6, ls=PATTERN)
draw(ax, est_green, "#88F088", lw=3.8, ls=PATTERN)
draw(ax, est_light_blue, "#CCE5FF", lw=3.8, ls=PATTERN)
draw(ax, est_lavender, "#E5CCFF", lw=3.8, ls=PATTERN)
draw(ax, est_mauve, "#C497AC", lw=3.8, ls=PATTERN)
draw(ax, est_magenta, "#FFB3FF", lw=1.6, ls=(0, (1, 1)))
draw(ax, gray, "#808080", lw=3.0, ls=PATTERN)
draw(ax, yellow, "#FFFF00")
draw(ax, lavender, "#CC99FF")
draw(ax, light_blue, "#99CCFF")
draw(ax, sea_green, "#339966")
draw(ax, green, "#00FF00")
draw(ax, black, "#000000")
draw(ax, navy, "#333399")
draw(ax, maroon, "#993366")
draw(ax, turquoise, "#33CCCC")
draw(ax, dark_green, "#008000")
draw(ax, orange, "#FF9900")
draw(ax, peach, "#FFCC99", lw=5.5)
draw(ax, pink, "#FF99CC")
draw(ax, red, "#FF0000")
draw(ax, magenta, "#FF00FF")

ax.set_xlim(0, N_DAYS)
ax.set_ylim(900, 1200)
ax.set_yticks(ELEV_TICKS)
ax.set_yticklabels([f"{v:.2f}" for v in ELEV_TICKS])
ax.yaxis.grid(True, color="#707070", lw=1.4)
ax.set_axisbelow(True)
ax.tick_params(axis="y", direction="out", length=6, width=1.3, labelsize=18, pad=5)
ax.tick_params(axis="x", direction="inout", length=11, width=1.1, labelsize=18, pad=14)
ax.set_xticks(TICK_DAYS)
ax.set_xticklabels(TICK_LABELS, rotation=-45, ha="left", va="top", rotation_mode="anchor")
shift = ScaledTranslation(0.17, 0, fig.dpi_scale_trans)
for lab in ax.get_xticklabels():
    lab.set_transform(lab.get_transform() + shift)

for side in ("left", "bottom"):
    ax.spines[side].set_color("#333333")
    ax.spines[side].set_linewidth(1.6)
ax.spines["top"].set_color("#707070")
ax.spines["top"].set_linewidth(1.4)
ax.spines["right"].set_visible(False)

ax.set_ylabel("Groundwater Elevation (feet above MSL)", fontsize=21.5, fontweight="bold",
              ha="center", va="center")
ax.yaxis.set_label_coords(-0.048, 0.543)
ax.set_xlabel("Date", fontsize=17, fontweight="bold", va="center")
ax.xaxis.set_label_coords(0.474, -0.066)

# precipitation on the secondary axis
ax2 = ax.twinx()
rain = np.zeros(N_DAYS)
rain[rain_day] = rain_in
ax2.plot(np.arange(N_DAYS), rain, color="#0000FF", lw=3.0, solid_joinstyle="miter", zorder=3)
ax2.set_ylim(0, 4)
ax2.set_xlim(0, N_DAYS)
ax2.set_yticks(RAIN_TICKS)
ax2.set_yticklabels(RAIN_TICK_LABELS)
ax2.tick_params(axis="y", direction="inout", length=11, width=1.3, labelsize=18, pad=6)
for side in ("left", "top", "bottom"):
    ax2.spines[side].set_visible(False)
ax2.spines["right"].set_color("#333333")
ax2.spines["right"].set_linewidth(1.6)
ax2.set_ylabel("Precipitation (inches)", fontsize=17, fontweight="bold", ha="center", va="center",
               rotation=90)
ax2.yaxis.set_label_coords(1.0527, 0.364)

# page number, cut off by the bottom edge as in the source
fig.text(3006 / 3086, 0.0035, "12", fontsize=22, ha="center", va="top")

fig.savefig("out.png", dpi=100)
